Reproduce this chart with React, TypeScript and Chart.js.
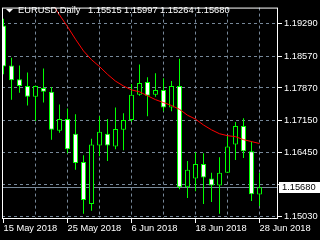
import React, { useEffect, useRef } from 'react';
import { Chart, registerables } from 'chart.js';

Chart.register(...registerables);

const dates = [
  '15 May 2018', '16 May 2018', '17 May 2018', '18 May 2018', '21 May 2018', '22 May 2018',
  '23 May 2018', '24 May 2018', '25 May 2018', '28 May 2018', '29 May 2018', '30 May 2018',
  '31 May 2018', '1 Jun 2018', '4 Jun 2018', '5 Jun 2018', '6 Jun 2018', '7 Jun 2018',
  '8 Jun 2018', '11 Jun 2018', '12 Jun 2018', '13 Jun 2018', '14 Jun 2018', '15 Jun 2018',
  '18 Jun 2018', '19 Jun 2018', '20 Jun 2018', '21 Jun 2018', '22 Jun 2018', '25 Jun 2018',
  '26 Jun 2018', '27 Jun 2018', '28 Jun 2018',
];

const opens = [
  1.19247, 1.18365, 1.18063, 1.17913, 1.17676, 1.17870, 1.17784, 1.16923, 1.17182, 1.16859,
  1.16235, 1.15310, 1.16600, 1.16859, 1.16579, 1.16945, 1.17160, 1.17719, 1.17999, 1.17719,
  1.17827, 1.17440, 1.17913, 1.15675, 1.15869, 1.16192, 1.15869, 1.15718, 1.15998, 1.16622,
  1.17031, 1.16471, 1.15515,
];

const highs = [
  1.19398, 1.18537, 1.18365, 1.18214, 1.17920, 1.18300, 1.17891, 1.17504, 1.17418, 1.17289,
  1.16385, 1.16751, 1.17246, 1.17182, 1.17440, 1.17311, 1.17956, 1.18386, 1.18107, 1.18193,
  1.18085, 1.18021, 1.18515, 1.16256, 1.16450, 1.16428, 1.15998, 1.16342, 1.16816, 1.17117,
  1.17203, 1.16686, 1.15997,
];

const lows = [
  1.18171, 1.17612, 1.17762, 1.17483, 1.17138, 1.17547, 1.16729, 1.16880, 1.16428, 1.16063,
  1.15094, 1.15159, 1.16364, 1.16256, 1.16514, 1.16493, 1.17117, 1.17698, 1.17246, 1.17676,
  1.17354, 1.17354, 1.15632, 1.15439, 1.15589, 1.15310, 1.15353, 1.15094, 1.15998, 1.16278,
  1.16321, 1.15374, 1.15264,
];

const closes = [
  1.18343, 1.18042, 1.17913, 1.17676, 1.17913, 1.17784, 1.16945, 1.17182, 1.16514, 1.16213,
  1.15396, 1.16622, 1.16902, 1.16600, 1.16966, 1.17160, 1.17719, 1.17977, 1.17698, 1.17827,
  1.17440, 1.17913, 1.15675, 1.16063, 1.16192, 1.15890, 1.15718, 1.15998, 1.16579, 1.17031,
  1.16471, 1.15525, 1.15680,
];

const maValues: (number | null)[] = [
  null, null, null, null, null, null,
  1.19763, 1.19483, 1.19225, 1.18946, 1.18687, 1.18494, 1.18343, 1.18171, 1.18021, 1.17913,
  1.17827, 1.17784, 1.17698, 1.17612, 1.17547, 1.17483, 1.17397, 1.17268, 1.17182, 1.17052,
  1.16945, 1.16859, 1.16816, 1.16794, 1.16729, 1.16686, 1.16643,
];

const yTickValues = [1.1503, 1.1574, 1.1645, 1.1715, 1.1787, 1.1857, 1.1929];
const yHiddenLabel = 1.1574;
const xGridIndices = [0, 4, 8, 12, 16, 20, 24, 28, 32];
const xLabelIndices = [0, 8, 16, 24, 32];
const symbolTitle = 'EURUSD,Daily';

const Y_MIN = 1.149762;
const Y_MAX = 1.19645;
const X_MIN = -0.1875;
const X_MAX = 34.3125;

const FONT_FAMILY = "'Liberation Sans', Arial, sans-serif";
const FONT_SIZE = 9.3;
const GRID_COLOR = '#778899';
const CANDLE_GREEN = '#00ff00';

const mtPlugin = {
  id: 'mtPlugin',
  beforeDraw(chart: any) {
    const { ctx, width, height } = chart;
    ctx.save();
    ctx.fillStyle = '#000000';
    ctx.fillRect(0, 0, width, height);
    ctx.restore();
  },
  beforeDatasetsDraw(chart: any) {
    const { ctx, chartArea } = chart;
    const yScale = chart.scales.y;
    const last = closes[closes.length - 1];
    const py = Math.floor(yScale.getPixelForValue(last)) + 0.5;
    ctx.save();
    ctx.strokeStyle = GRID_COLOR;
    ctx.lineWidth = 1;
    ctx.beginPath();
    ctx.moveTo(chartArea.left, py);
    ctx.lineTo(chartArea.right, py);
    ctx.stroke();
    ctx.restore();
  },
  afterDraw(chart: any) {
    const { ctx, chartArea, width } = chart;
    const yScale = chart.scales.y;
    ctx.save();
    // frame
    ctx.strokeStyle = '#ffffff';
    ctx.lineWidth = 1;
    ctx.strokeRect(
      chartArea.left + 0.5,
      chartArea.top + 0.5,
      chartArea.right - chartArea.left - 1,
      chartArea.bottom - chartArea.top - 1,
    );
    // current price label
    const li = closes.length - 1;
    const last = closes[li];
    const py = Math.floor(yScale.getPixelForValue(last));
    ctx.fillStyle = '#ffffff';
    ctx.fillRect(chartArea.right + 1, py - 5, width - chartArea.right - 1, 11);
    ctx.fillStyle = '#000000';
    ctx.font = `${FONT_SIZE}px ${FONT_FAMILY}`;
    ctx.textBaseline = 'middle';
    ctx.textAlign = 'left';
    ctx.fillText(last.toFixed(5), chartArea.right + 4, py + 0.5);
    // title
    ctx.fillStyle = '#ffffff';
    ctx.beginPath();
    ctx.moveTo(6, 9);
    ctx.lineTo(13, 9);
    ctx.lineTo(9.5, 12.5);
    ctx.closePath();
    ctx.fill();
    ctx.fillText(symbolTitle, 18, 10.5);
    const ohlc = [opens[li], highs[li], lows[li], closes[li]];
    ohlc.forEach((v, k) => {
      ctx.fillText(v.toFixed(5), 88 + k * 36, 10.5);
    });
    ctx.restore();
  },
};

export default function App() {
  const canvasRef = useRef<HTMLCanvasElement | null>(null);

  useEffect(() => {
    const canvas = canvasRef.current;
    if (!canvas) return;

    const wickData = dates.map((_, i) => ({ x: i, y: [lows[i], highs[i]] }));
    const bodyData = dates.map((_, i) => ({ x: i, y: [opens[i], closes[i]] }));
    const bodyFill = dates.map((_, i) => (closes[i] >= opens[i] ? '#000000' : '#ffffff'));
    const maData = maValues
      .map((v, i) => (v === null ? null : { x: i, y: v }))
      .filter((p) => p !== null);

    const chart = new Chart(canvas, {
      type: 'bar',
      data: {
        datasets: [
          {
            type: 'line',
            data: maData as any,
            borderColor: '#ff0000',
            borderWidth: 1,
            pointRadius: 0,
            tension: 0,
            fill: false,
            order: 0,
          } as any,
          {
            type: 'bar',
            data: bodyData as any,
            backgroundColor: bodyFill,
            borderColor: CANDLE_GREEN,
            borderWidth: 1,
            borderSkipped: false,
            barThickness: 5,
            grouped: false,
            inflateAmount: 0,
            order: 1,
          } as any,
          {
            type: 'bar',
            data: wickData as any,
            backgroundColor: CANDLE_GREEN,
            borderWidth: 0,
            barThickness: 1,
            grouped: false,
            inflateAmount: 0,
            order: 2,
          } as any,
        ],
      },
      options: {
        animation: false,
        responsive: false,
        devicePixelRatio: 1,
        events: [],
        layout: { padding: { left: 2, top: 2, right: 0, bottom: 0 } },
        plugins: {
          legend: { display: false },
          tooltip: { enabled: false },
        },
        scales: {
          x: {
            type: 'linear',
            min: X_MIN,
            max: X_MAX,
            offset: false,
            afterBuildTicks: (s: any) => {
              s.ticks = xGridIndices.map((v) => ({ value: v }));
            },
            afterFit: (s: any) => {
              s.height = 21;
            },
            grid: {
              offset: false,
              lineWidth: 1,
              color: (c: any) => (c.tick && c.tick.value === 0 ? 'rgba(0,0,0,0)' : GRID_COLOR),
              drawTicks: true,
              tickLength: 4,
              tickColor: (c: any) =>
                c.tick && xLabelIndices.includes(c.tick.value) ? '#ffffff' : 'rgba(0,0,0,0)',
            },
            border: { display: false, dash: [3, 3] },
            ticks: {
              autoSkip: false,
              maxRotation: 0,
              minRotation: 0,
              align: 'start',
              padding: 0,
              color: '#ffffff',
              font: { family: FONT_FAMILY, size: FONT_SIZE },
              callback: (v: any) => (xLabelIndices.includes(v) ? dates[v] : ''),
            },
          },
          y: {
            type: 'linear',
            position: 'right',
            min: Y_MIN,
            max: Y_MAX,
            beginAtZero: false,
            afterBuildTicks: (s: any) => {
              s.ticks = yTickValues.map((v) => ({ value: v }));
            },
            afterFit: (s: any) => {
              s.width = 42;
            },
            grid: {
              color: GRID_COLOR,
              lineWidth: 1,
              drawTicks: true,
              tickLength: 4,
              tickColor: '#ffffff',
            },
            border: { display: false, dash: [3, 3] },
            ticks: {
              padding: 2,
              color: '#ffffff',
              font: { family: FONT_FAMILY, size: FONT_SIZE },
              callback: (v: any) => (Math.abs(v - yHiddenLabel) < 1e-7 ? '' : Number(v).toFixed(5)),
            },
          },
        },
      } as any,
      plugins: [mtPlugin],
    });

    return () => {
      chart.destroy();
    };
  }, []);

  return (
    <div
      style={{
        position: 'fixed',
        left: 0,
        top: 0,
        width: 320,
        height: 240,
        background: '#000000',
      }}
    >
      <canvas ref={canvasRef} width={320} height={240} style={{ display: 'block', width: 320, height: 240 }} />
    </div>
  );
}
